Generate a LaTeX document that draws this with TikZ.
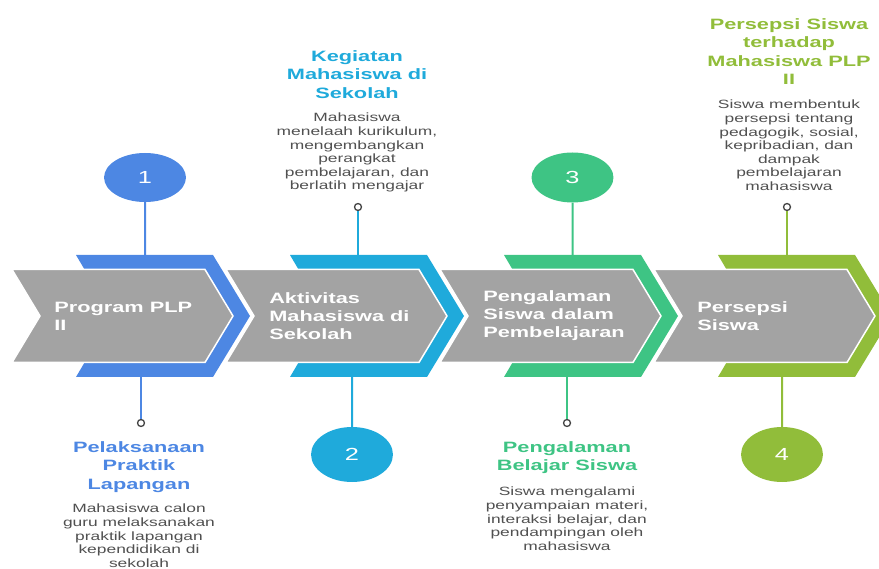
\documentclass[tikz,border=0pt]{standalone}
\usepackage{fontspec}
\setmainfont{Liberation Sans}
\usepackage{tikz}
\usetikzlibrary{positioning}
\usetikzlibrary{shapes.geometric}
\usepackage{xcolor}

\definecolor{plpblue}{HTML}{4D87E3}
\definecolor{plpcyan}{HTML}{1FAADB}
\definecolor{plpgreen}{HTML}{3EC484}
\definecolor{plplime}{HTML}{91BD3A}
\definecolor{plpgrey}{HTML}{A3A3A3}
\definecolor{plptext}{HTML}{505050}
\definecolor{plpdot}{HTML}{444444}

\begin{document}
\begin{tikzpicture}[x=1pt,y=-1pt,
    greybox/.style={fill=plpgrey, draw=white, line width=1.5pt},
    steplabel/.style={anchor=west, align=left, inner sep=0pt, text=white, xscale=1.45,
        font=\bfseries\fontsize{15}{18}\selectfont},
    numcircle/.style={ellipse, inner sep=0pt, minimum width=56.5pt, xscale=1.45, text=white,
        font=\fontsize{17.5}{17.5}\selectfont},
    dotnode/.style={circle, draw=plpdot, fill=white, line width=1.3pt, minimum size=7pt, inner sep=0pt},
    titletext/.style={anchor=north, align=center, inner sep=0pt, xscale=1.45,
        font=\bfseries\fontsize{15}{18.5}\selectfont},
    desctext/.style={anchor=north, align=center, inner sep=0pt, xscale=1.45, text=plptext,
        font=\fontsize{12}{13.6}\selectfont},
    link/.style={line width=2pt}
    ]
\useasboundingbox (0,0) rectangle (879,569);

% chevrons
\fill[plpblue] (76,255)--(213,255)--(250,316)--(213,377)--(76,377)--(112,316)--cycle;
\draw[greybox] (12,269.5)--(205,269.5)--(233,316)--(205,362.5)--(12,362.5)--(40,316)--cycle;

\fill[plpcyan] (290,255)--(427,255)--(464,316)--(427,377)--(290,377)--(326,316)--cycle;
\draw[greybox] (226,269.5)--(419,269.5)--(447,316)--(419,362.5)--(226,362.5)--(254,316)--cycle;

\fill[plpgreen] (504,255)--(641,255)--(678,316)--(641,377)--(504,377)--(540,316)--cycle;
\draw[greybox] (440,269.5)--(633,269.5)--(661,316)--(633,362.5)--(440,362.5)--(468,316)--cycle;

\fill[plplime] (718,255)--(855,255)--(892,316)--(855,377)--(718,377)--(754,316)--cycle;
\draw[greybox] (654,269.5)--(847,269.5)--(875,316)--(847,362.5)--(654,362.5)--(682,316)--cycle;

\node[steplabel] (lab1) at (54,316) {Program PLP\\II};
\node[steplabel] (lab2) at (269,316) {Aktivitas\\Mahasiswa di\\Sekolah};
\node[steplabel] (lab3) at (483,316) {Pengalaman\\Siswa dalam\\Pembelajaran};
\node[steplabel] (lab4) at (697,316) {Persepsi\\Siswa};

% ends of the connectors on the bands
\coordinate (top1) at (145,255);
\coordinate (bot1) at (141,377);
\coordinate (top2) at (358,255);
\coordinate (bot2) at (352,377);
\coordinate (top3) at (572.5,255);
\coordinate (bot3) at (567,377);
\coordinate (top4) at (787,255);
\coordinate (bot4) at (782,377);

% step 1
\node[numcircle, fill=plpblue, minimum height=49pt] (num1) at (145,177.5) {1};
\node[dotnode] (dot1) at (141,423) {};
\draw[link, plpblue] (num1) -- (top1);
\draw[link, plpblue] (bot1) -- (dot1);
\node[titletext, text=plpblue] (title1) at (139,441) {Pelaksanaan\\Praktik\\Lapangan};
\node[desctext] (desc1) at (139,504) {Mahasiswa calon\\guru melaksanakan\\praktik lapangan\\kependidikan di\\sekolah};

% step 2
\node[numcircle, fill=plpcyan, minimum height=55pt] (num2) at (352,454.5) {2};
\node[dotnode] (dot2) at (358,207) {};
\draw[link, plpcyan] (dot2) -- (top2);
\draw[link, plpcyan] (bot2) -- (num2);
\node[titletext, text=plpcyan] (title2) at (357,50) {Kegiatan\\Mahasiswa di\\Sekolah};
\node[desctext] (desc2) at (357,113) {Mahasiswa\\menelaah kurikulum,\\mengembangkan\\perangkat\\pembelajaran, dan\\berlatih mengajar};

% step 3
\node[numcircle, fill=plpgreen, minimum height=50pt] (num3) at (572.5,177.5) {3};
\node[dotnode] (dot3) at (567,423) {};
\draw[link, plpgreen] (num3) -- (top3);
\draw[link, plpgreen] (bot3) -- (dot3);
\node[titletext, text=plpgreen] (title3) at (567,441) {Pengalaman\\Belajar Siswa};
\node[desctext] (desc3) at (567,487) {Siswa mengalami\\penyampaian materi,\\interaksi belajar, dan\\pendampingan oleh\\mahasiswa};

% step 4
\node[numcircle, fill=plplime, minimum height=55pt] (num4) at (782,454.5) {4};
\node[dotnode] (dot4) at (787,207) {};
\draw[link, plplime] (dot4) -- (top4);
\draw[link, plplime] (bot4) -- (num4);
\node[titletext, text=plplime] (title4) at (789,18) {Persepsi Siswa\\terhadap\\Mahasiswa PLP\\II};
\node[desctext] (desc4) at (789,100) {Siswa membentuk\\persepsi tentang\\pedagogik, sosial,\\kepribadian, dan\\dampak\\pembelajaran\\mahasiswa};

\end{tikzpicture}
\end{document}
